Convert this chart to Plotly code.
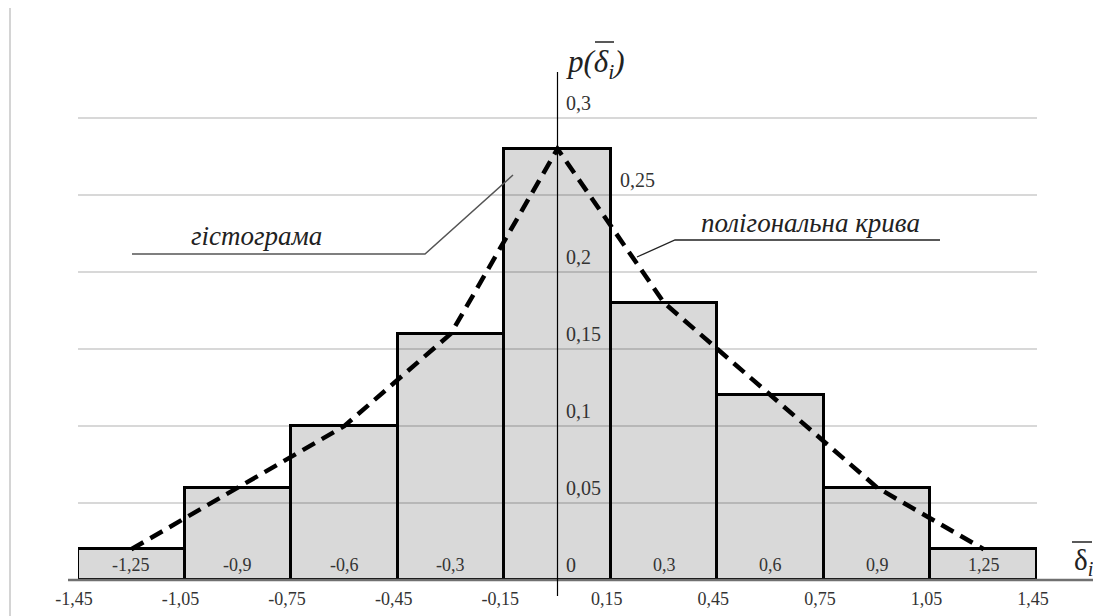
import plotly.graph_objects as go

# ---- data ----
bin_labels = ["-1,25", "-0,9", "-0,6", "-0,3", "0", "0,3", "0,6", "0,9", "1,25"]
edge_labels = ["-1,45", "-1,05", "-0,75", "-0,45", "-0,15", "0,15", "0,45", "0,75", "1,05", "1,45"]
frequencies = [0.02, 0.06, 0.10, 0.16, 0.28, 0.18, 0.12, 0.06, 0.02]
y_tick_values = [0, 0.05, 0.1, 0.15, 0.2, 0.25, 0.3]
y_tick_labels = ["0", "0,05", "0,1", "0,15", "0,2", "0,25", "0,3"]

# page is drawn with an 8px body margin, so the figure is shifted by OFF
OFF = 8
W, H = 1101 - OFF, 616 - OFF
ML = 78 - OFF
MR = W - (1037 - OFF)
MT = 0
MB = H - (580 - OFF)
PW, PH = W - ML - MR, H - MT - MB

n = len(frequencies)
centers = list(range(n))
edges = [i - 0.5 for i in range(n + 1)]
x_range = [-0.5, n - 0.5]
y_range = [0, PH / 1540.0]
center_idx = bin_labels.index("0")

SERIF = "Liberation Serif"


def dx(px):  # reference-image pixel -> x data
    return x_range[0] + (px - OFF - ML) / PW * (x_range[1] - x_range[0])


def dy(py):  # reference-image pixel -> y data
    return y_range[0] + (H - MB - (py - OFF)) / PH * (y_range[1] - y_range[0])


def px_paper(px):
    return (px - OFF - ML) / PW


def py_paper(py):
    return (H - MB - (py - OFF)) / PH


fig = go.Figure()

fig.add_trace(go.Bar(
    x=centers, y=frequencies, width=1,
    marker=dict(color="rgba(0,0,0,0.15)", line=dict(color="black", width=3)),
    hoverinfo="skip", showlegend=False,
))

fig.add_trace(go.Scatter(
    x=centers, y=frequencies, mode="lines",
    line=dict(color="black", width=4.5, dash="14px,8px"),
    hoverinfo="skip", showlegend=False,
))

annotations = []
for c, lab in zip(centers, bin_labels):
    if c == center_idx:
        continue
    annotations.append(dict(x=c, y=0, xref="x", yref="y", text=lab, showarrow=False,
                            yshift=15, font=dict(family=SERIF, size=18, color="#333")))
for v, lab in zip(y_tick_values, y_tick_labels):
    if lab == "0,25":
        xx, xs = center_idx + 0.5, 7
    else:
        xx, xs = center_idx, 6
    annotations.append(dict(x=xx, y=v, xref="x", yref="y", text=lab, showarrow=False,
                            xanchor="left", xshift=xs, yshift=15,
                            font=dict(family=SERIF, size=20, color="#333")))
# axis titles
annotations.append(dict(x=px_paper(564), y=py_paper(64), xref="paper", yref="paper",
                        xanchor="left", yanchor="middle",
                        text="<i>p(δ</i><sub><i>i</i></sub><i>)</i>", showarrow=False,
                        font=dict(family=SERIF, size=31, color="#222")))
annotations.append(dict(x=px_paper(1072), y=py_paper(562), xref="paper", yref="paper",
                        xanchor="left", yanchor="middle",
                        text="δ<sub><i>i</i></sub>", showarrow=False,
                        font=dict(family=SERIF, size=29, color="#222")))
# callout labels
annotations.append(dict(x=dx(256), y=dy(236), xref="x", yref="y", text="<i>гістограма</i>",
                        showarrow=False, font=dict(family=SERIF, size=27, color="#222")))
annotations.append(dict(x=dx(810), y=dy(223), xref="x", yref="y", text="<i>полігональна крива</i>",
                        showarrow=False, font=dict(family=SERIF, size=27, color="#222")))

shapes = []
# x axis line
shapes.append(dict(type="line", xref="paper", yref="paper",
                   x0=px_paper(68), x1=px_paper(1101), y0=0, y1=0,
                   line=dict(color="#707070", width=2.5), layer="above"))
# y axis line at bin centre "0"
shapes.append(dict(type="line", xref="x", yref="paper", x0=center_idx, x1=center_idx,
                   y0=py_paper(596), y1=py_paper(72),
                   line=dict(color="black", width=1.2), layer="above"))
# overlines of the axis symbols
shapes.append(dict(type="line", xref="paper", yref="paper",
                   x0=px_paper(595), x1=px_paper(614), y0=py_paper(42), y1=py_paper(42),
                   line=dict(color="#222", width=1.5)))
shapes.append(dict(type="line", xref="paper", yref="paper",
                   x0=px_paper(1072), x1=px_paper(1092), y0=py_paper(542), y1=py_paper(542),
                   line=dict(color="#222", width=1.5)))
# callout leader lines
shapes.append(dict(type="path", xref="x", yref="y",
                   path=f"M {dx(132)} {dy(254)} L {dx(425)} {dy(254)} L {dx(513)} {dy(175)}",
                   line=dict(color="#555", width=1.5)))
shapes.append(dict(type="path", xref="x", yref="y", layer="above",
                   path=f"M {dx(940)} {dy(240)} L {dx(675)} {dy(240)} L {dx(637)} {dy(257)}",
                   line=dict(color="#222", width=1.3)))
# page border at left
shapes.append(dict(type="line", xref="paper", yref="paper",
                   x0=px_paper(10), x1=px_paper(10), y0=py_paper(5), y1=py_paper(616),
                   line=dict(color="#d4d4d4", width=2)))

fig.update_layout(
    width=W, height=H,
    margin=dict(l=ML, r=MR, t=MT, b=MB),
    paper_bgcolor="white", plot_bgcolor="white",
    bargap=0, showlegend=False,
    annotations=annotations, shapes=shapes,
    xaxis=dict(range=x_range, tickmode="array", tickvals=edges, ticktext=edge_labels,
               showgrid=False, zeroline=False, showline=False, ticks="",
               tickfont=dict(family=SERIF, size=18, color="#333"),
               ticklabelshift=-4, ticklabelstandoff=6, fixedrange=True),
    yaxis=dict(range=y_range, tickmode="array", tickvals=y_tick_values[1:],
               showticklabels=False, showgrid=True, gridcolor="#d8d8d8", gridwidth=1.5,
               zeroline=False, showline=False, ticks="", fixedrange=True),
)

fig.write_html("out.html")
